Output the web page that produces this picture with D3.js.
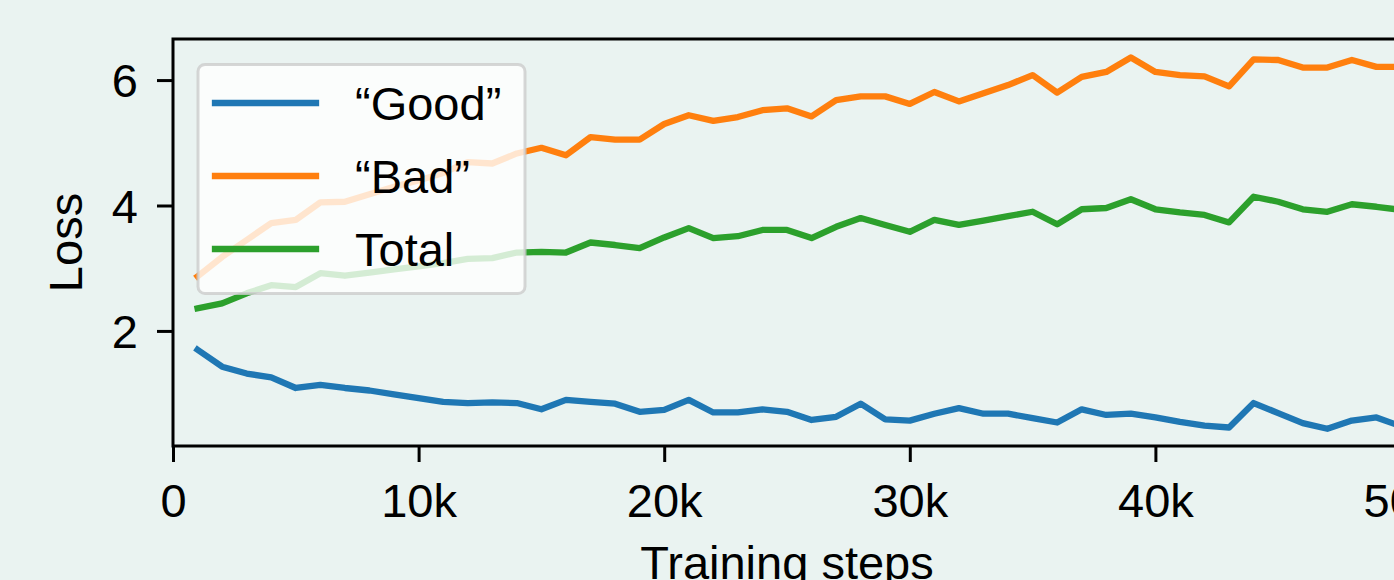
<!DOCTYPE html>
<html>
<head>
<meta charset="utf-8">
<script src="https://cdn.jsdelivr.net/npm/d3@7"></script>
<style>
  html, body { margin: 0; padding: 0; background: #eaf3f1; }
  svg { display: block; }
  text { font-family: "Liberation Sans", Arial, Helvetica, sans-serif; fill: #000; }
</style>
</head>
<body>
<svg id="chart" width="1394" height="580"></svg>
<script>
// Training step for each logged point (every 1k steps)
const steps = d3.range(1, 51).map(k => k * 1000);

const goodLoss = [1.70, 1.43, 1.32, 1.26, 1.09, 1.14, 1.09, 1.05, 0.99, 0.93,
                  0.87, 0.85, 0.86, 0.85, 0.75, 0.90, 0.87, 0.84, 0.71, 0.74,
                  0.90, 0.70, 0.70, 0.75, 0.71, 0.58, 0.63, 0.84, 0.59, 0.57,
                  0.68, 0.77, 0.68, 0.68, 0.61, 0.54, 0.75, 0.66, 0.68, 0.62,
                  0.55, 0.49, 0.46, 0.85, 0.69, 0.53, 0.44, 0.57, 0.62, 0.48];

const badLoss = [2.87, 3.18, 3.45, 3.72, 3.77, 4.05, 4.06, 4.18, 4.30, 4.40,
                 4.52, 4.69, 4.67, 4.83, 4.92, 4.80, 5.09, 5.05, 5.05, 5.30,
                 5.44, 5.35, 5.41, 5.52, 5.55, 5.42, 5.68, 5.74, 5.74, 5.62,
                 5.81, 5.66, 5.79, 5.92, 6.08, 5.80, 6.05, 6.13, 6.36, 6.13,
                 6.08, 6.06, 5.90, 6.33, 6.32, 6.20, 6.20, 6.32, 6.21, 6.21];

const totalLoss = [2.36, 2.44, 2.60, 2.73, 2.70, 2.92, 2.88, 2.93, 2.98, 3.03,
                   3.08, 3.15, 3.16, 3.25, 3.26, 3.25, 3.41, 3.37, 3.32, 3.49,
                   3.64, 3.48, 3.51, 3.61, 3.61, 3.48, 3.66, 3.80, 3.69, 3.58,
                   3.77, 3.69, 3.76, 3.83, 3.90, 3.70, 3.94, 3.96, 4.10, 3.94,
                   3.89, 3.85, 3.73, 4.14, 4.06, 3.94, 3.90, 4.02, 3.98, 3.93];

const seriesNames = ["\u201CGood\u201D", "\u201CBad\u201D", "Total"];
const seriesColors = ["#1f77b4", "#ff7f0e", "#2ca02c"];
const xTicks = [0, 10000, 20000, 30000, 40000, 50000];
const yTicks = [2, 4, 6];

const series = [goodLoss, badLoss, totalLoss].map((vals, i) => ({
  name: seriesNames[i],
  color: seriesColors[i],
  points: vals.map((v, j) => ({ step: steps[j], loss: v }))
}));

const svg = d3.select("#chart");
const W = 1394, H = 580;
const plot = { left: 173, right: 1401, top: 39, bottom: 446 };
const fontSize = 47;
const lineWidth = 6.3;

svg.append("rect").attr("width", W).attr("height", H).attr("fill", "#eaf3f1");

const x = d3.scaleLinear().domain([0, 50000]).range([plot.left, plot.right]);
const y = d3.scaleLinear().domain([0.165, 6.655]).range([plot.bottom, plot.top]);

// Loss curves, clipped to the axes area
svg.append("clipPath").attr("id", "plot-clip")
  .append("rect")
  .attr("x", plot.left).attr("y", plot.top)
  .attr("width", plot.right - plot.left).attr("height", plot.bottom - plot.top);

const line = d3.line().x(d => x(d.step)).y(d => y(d.loss));

svg.append("g").attr("clip-path", "url(#plot-clip)")
  .selectAll("path").data(series).join("path")
  .attr("d", d => line(d.points))
  .attr("fill", "none")
  .attr("stroke", d => d.color)
  .attr("stroke-width", lineWidth)
  .attr("stroke-linejoin", "round")
  .attr("stroke-linecap", "square");

// Axes
const xAxis = svg.append("g")
  .attr("transform", `translate(0,${plot.bottom})`)
  .call(d3.axisBottom(x).tickValues(xTicks)
    .tickFormat(d => d === 0 ? "0" : (d / 1000) + "k")
    .tickSize(16).tickPadding(20));

const yAxis = svg.append("g")
  .attr("transform", `translate(${plot.left},0)`)
  .call(d3.axisLeft(y).tickValues(yTicks).tickFormat(d3.format("d"))
    .tickSize(16).tickPadding(19));

[xAxis, yAxis].forEach(g => {
  g.select(".domain").remove();
  g.selectAll(".tick line").attr("stroke", "#000").attr("stroke-width", 3);
  g.selectAll(".tick text").attr("font-size", fontSize)
    .attr("font-family", "Liberation Sans, Arial, sans-serif");
});
xAxis.selectAll(".tick text").attr("dy", null).attr("y", 71);
yAxis.selectAll(".tick text").attr("dy", null).attr("dominant-baseline", "central");

// Frame around the axes area (right edge lies past the page edge)
svg.append("rect")
  .attr("x", plot.left).attr("y", plot.top)
  .attr("width", plot.right - plot.left).attr("height", plot.bottom - plot.top)
  .attr("fill", "none").attr("stroke", "#000").attr("stroke-width", 3);

// Axis titles
svg.append("text")
  .attr("x", (plot.left + plot.right) / 2).attr("y", 579)
  .attr("text-anchor", "middle").attr("font-size", fontSize)
  .text("Training steps");

svg.append("text")
  .attr("transform", `translate(82,${(plot.top + plot.bottom) / 2}) rotate(-90)`)
  .attr("text-anchor", "middle").attr("font-size", fontSize)
  .text("Loss");

// Legend
const legend = svg.append("g");
legend.append("rect")
  .attr("x", 198).attr("y", 64.5)
  .attr("width", 327).attr("height", 229)
  .attr("rx", 7).attr("ry", 7)
  .attr("fill", "#ffffff").attr("fill-opacity", 0.8)
  .attr("stroke", "#cccccc").attr("stroke-opacity", 0.8).attr("stroke-width", 3);

const rowY = [103, 176, 249];
const entries = legend.selectAll("g.entry").data(series).join("g")
  .attr("class", "entry")
  .attr("transform", (d, i) => `translate(0,${rowY[i]})`);

entries.append("line")
  .attr("x1", 215).attr("x2", 316)
  .attr("stroke", d => d.color).attr("stroke-width", lineWidth)
  .attr("stroke-linecap", "square");

entries.append("text")
  .attr("x", 355).attr("dominant-baseline", "central")
  .attr("font-size", fontSize)
  .text(d => d.name);
</script>
</body>
</html>
